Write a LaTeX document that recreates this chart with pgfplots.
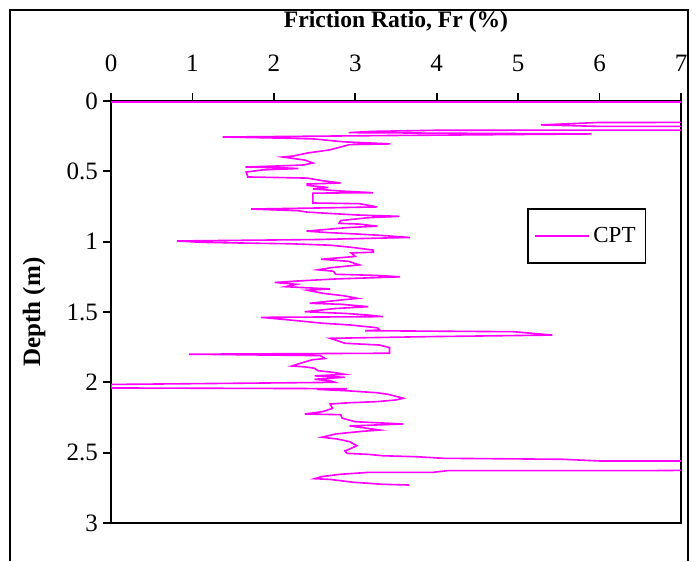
\documentclass[border=0pt]{standalone}
\usepackage{fontspec}
\setmainfont{Liberation Serif}
\usepackage{pgfplots}
\pgfplotsset{compat=1.18}
\definecolor{cptline}{RGB}{255,0,255}
\newcommand{\chartfont}{\fontsize{11.5}{13}\selectfont}
\newcommand{\tickfont}{\fontsize{12.5}{14}\selectfont}

% friction ratio (%) vs depth (m)
\pgfplotstableread{
fr    depth
0.00  0.007
10.0  0.007
10.0  0.150
5.97  0.153
5.28  0.170
5.97  0.180
10.0  0.183
10.0  0.205
4.00  0.208
3.20  0.216
2.92  0.225
4.50  0.230
5.90  0.234
3.50  0.245
1.37  0.256
2.20  0.265
2.50  0.270
2.85  0.290
3.43  0.305
2.93  0.310
2.69  0.347
2.41  0.370
2.24  0.391
2.11  0.398
2.38  0.420
2.48  0.441
2.36  0.455
2.04  0.462
1.65  0.469
2.15  0.476
2.30  0.480
1.86  0.490
1.66  0.505
1.68  0.540
2.41  0.548
2.60  0.567
2.82  0.583
2.41  0.590
2.41  0.600
2.67  0.615
2.48  0.625
2.82  0.640
3.22  0.652
2.48  0.655
2.48  0.725
3.05  0.730
3.27  0.753
2.60  0.760
1.72  0.768
2.30  0.780
2.41  0.790
3.01  0.810
3.54  0.820
3.15  0.830
2.82  0.850
2.80  0.870
3.05  0.875
3.27  0.890
2.90  0.900
2.50  0.920
2.40  0.925
2.65  0.935
3.00  0.945
3.30  0.955
3.67  0.970
2.50  0.985
0.81  0.995
1.12  1.005
2.20  1.015
2.69  1.025
2.95  1.040
3.22  1.060
3.22  1.075
2.95  1.080
3.00  1.105
2.58  1.125
2.92  1.140
3.05  1.165
2.70  1.185
2.54  1.200
2.73  1.210
2.76  1.232
3.27  1.240
3.55  1.250
2.76  1.265
2.28  1.280
2.01  1.290
2.28  1.303
2.14  1.320
2.69  1.336
2.41  1.345
2.60  1.367
2.85  1.384
3.03  1.403
2.82  1.415
2.44  1.438
2.82  1.445
3.16  1.462
2.76  1.475
2.38  1.498
2.87  1.510
3.13  1.520
3.34  1.533
1.84  1.538
2.20  1.557
2.60  1.580
2.93  1.592
3.27  1.612
3.30  1.628
3.12  1.633
4.94  1.640
5.42  1.664
3.92  1.675
2.69  1.687
2.76  1.700
2.87  1.722
3.30  1.735
3.42  1.753
3.42  1.793
0.96  1.800
2.57  1.810
2.63  1.830
2.47  1.840
2.35  1.860
2.22  1.884
2.38  1.890
2.50  1.900
2.54  1.917
2.74  1.930
2.87  1.943
2.50  1.954
2.87  1.964
2.50  1.978
2.70  1.990
2.75  2.000
0.00  2.015
0.00  2.040
2.90  2.045
2.53  2.050
2.90  2.060
3.27  2.074
3.40  2.085
3.59  2.113
3.50  2.125
3.27  2.137
2.93  2.145
2.69  2.154
2.72  2.185
2.60  2.208
2.38  2.225
2.82  2.230
2.84  2.255
3.00  2.280
3.59  2.296
2.93  2.310
3.30  2.339
3.09  2.348
2.76  2.367
2.59  2.390
2.78  2.403
2.93  2.422
3.02  2.450
2.93  2.474
2.87  2.488
2.90  2.505
3.16  2.512
3.34  2.522
3.76  2.529
4.08  2.540
5.55  2.547
6.00  2.559
10.0  2.560
10.0  2.615
6.46  2.628
4.13  2.628
3.95  2.640
3.16  2.640
2.81  2.654
2.59  2.670
2.50  2.685
2.69  2.690
2.97  2.710
3.34  2.725
3.66  2.730
}\cptdata

\begin{document}
\begin{tikzpicture}
\useasboundingbox (0,0) rectangle (349.5pt,280.5pt);
\draw[line width=1.1pt] (5pt,0) -- (5pt,275.5pt) -- (344pt,275.5pt) -- (344pt,0);
\begin{axis}[
  at={(55.5pt,19pt)}, anchor=south west,
  scale only axis, width=285pt, height=211pt,
  xmin=0, xmax=7, ymin=0, ymax=3, y dir=reverse,
  xtick={0,1,...,7}, ytick={0,0.5,...,3},
  xtick pos=upper, ytick pos=left, xticklabel pos=upper,
  tick align=outside, major tick length=4pt,
  axis line style={line width=1pt},
  every tick/.style={black, line width=0.9pt},
  ticklabel style={font=\tickfont},
  /pgf/number format/assume math mode=true,
  xticklabel style={yshift=7pt},
  yticklabel style={xshift=1pt},
  xlabel={Friction Ratio, Fr (\%)},
  xlabel style={font=\fontsize{11.8}{13}\selectfont\bfseries, at={(axis description cs:0.5,1.173)}, anchor=base},
  ylabel={Depth (m)},
  ylabel style={font=\fontsize{12.5}{14}\selectfont\bfseries, at={(axis description cs:-0.135,0.5)}, anchor=center},
  legend style={at={(axis description cs:0.73,0.746)}, anchor=north west,
    draw=black, line width=0.7pt, font=\chartfont, inner xsep=3pt, inner ysep=7pt},
  legend image code/.code={\draw[#1] (0pt,0pt) -- (27pt,0pt);},
]
\addplot[cptline, line width=0.8pt] table[x=fr, y=depth] {\cptdata};
\legend{CPT}
\end{axis}
\end{tikzpicture}
\end{document}
